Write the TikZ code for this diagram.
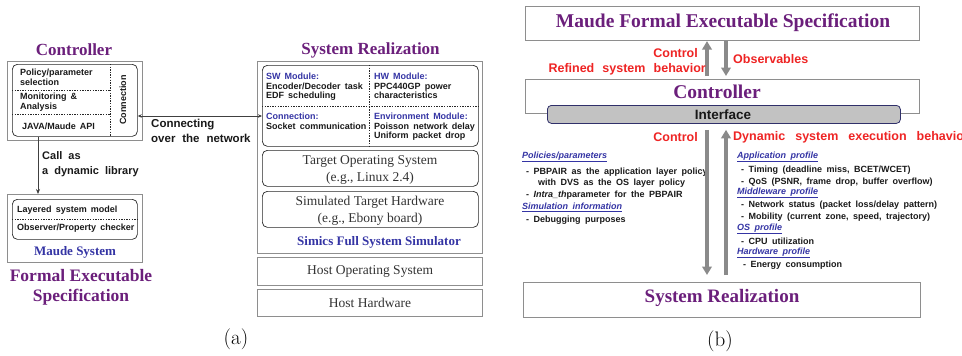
\documentclass[tikz,border=0pt]{standalone}
\usepackage{fontspec}
\setmainfont{Liberation Serif}
\setsansfont{Liberation Sans}
\newfontfamily\lmfont{Latin Modern Roman}
\usetikzlibrary{arrows.meta}
\definecolor{purp}{HTML}{6B1F7B}
\definecolor{blu}{HTML}{3434A4}
\definecolor{redt}{HTML}{EE2424}
\definecolor{grayb}{HTML}{8E8E8E}
\definecolor{arrg}{HTML}{8A8A8A}
\definecolor{ifg}{HTML}{C2C2C2}
\definecolor{ifb}{HTML}{30306A}
\definecolor{txg}{HTML}{333333}
\newcommand{\hdr}[1]{\textcolor{blu}{\itshape\underline{#1}}}
\newcommand{\wsp}[1]{\spaceskip=#1em plus 0.1em\relax}
\tikzset{
  obox/.style={draw=grayb, line width=1.1pt, anchor=north west, inner sep=0pt},
  ibox/.style={draw=black!85, rounded corners=5pt, line width=0.7pt, anchor=north west, inner sep=0pt},
  ttl/.style={font=\bfseries\fontsize{17}{20}\selectfont, text=purp, align=center, inner sep=0pt},
  bigttl/.style={font=\bfseries\fontsize{19.5}{22}\selectfont, text=purp, inner sep=0pt},
  sub/.style={font=\bfseries\fontsize{13}{15}\selectfont, text=blu, inner sep=0pt},
  sm/.style={font=\sffamily\bfseries\fontsize{9}{9.5}\selectfont\wsp{0.45}, align=left, inner sep=0pt, text=black!90},
  lst/.style={font=\sffamily\bfseries\fontsize{9}{12}\selectfont\wsp{0.5}, inner sep=0pt, anchor=west, text=black!90},
  midt/.style={font=\sffamily\bfseries\fontsize{11.5}{14.5}\selectfont\wsp{0.6}, align=left, inner sep=0pt, text=black!90},
  lab/.style={font=\sffamily\bfseries\fontsize{12.5}{14}\selectfont\wsp{0.65}, text=redt, inner sep=0pt},
  rmt/.style={font=\fontsize{13.5}{17}\selectfont, text=txg, align=center, inner sep=0pt},
  fat/.style={draw=arrg, line width=3.2pt, -{Triangle[width=9.5pt,length=8.5pt]}},
  thin/.style={draw=black!75, line width=0.7pt},
  dott/.style={draw=black!85, line width=0.7pt, dash pattern=on 1.3pt off 1.3pt},
  figcap/.style={font=\lmfont\fontsize{21}{24}\selectfont, inner sep=0pt},
}
\begin{document}
\begin{tikzpicture}[x=1pt, y=-1pt]
\useasboundingbox (0,0) rectangle (962,356);
% ================= panel (a) =================
\node[ttl] (ctrltitle) at (74,49.5) {Controller};
\node[obox, minimum width=135, minimum height=79] (ctrlout) at (7,61) {};
\node[ibox, minimum width=125, minimum height=72] (ctrlin) at (12,64) {};
\draw[dott] (110,64) -- (110,136);
\draw[dott] (12,90) -- (110,90);
\draw[dott] (12,114) -- (110,114);
\node[sm, anchor=north west] (pol) at (20,69) {Policy/parameter\\selection};
\node[sm, anchor=north west] (mon) at (20,93) {Monitoring \& \\Analysis};
\node[sm, anchor=west] (api) at (22,126) {JAVA/Maude API};
\node[sm, rotate=90] (conn) at (123,100) {Connection};

\node[obox, minimum width=135, minimum height=68] (maudeout) at (7,194) {};
\node[ibox, minimum width=125, minimum height=40] (maudein) at (12,199) {};
\draw[dott] (12,219) -- (137,219);
\node[sm, anchor=west] (lay) at (17,210) {Layered system model};
\node[sm, anchor=west] (obs) at (17,228) {Observer/Property checker};
\node[sub] (mauds) at (75,252) {Maude System};
\node[ttl, font=\bfseries\fontsize{17.5}{20}\selectfont] (fes) at (81,287.5) {Formal Executable\\Specification};

\coordinate (callx) at (38,0);
\draw[thin, -{Stealth[length=5pt,width=4pt]}] (ctrlin.south -| callx) -- (maudeout.north -| callx);
\node[midt, anchor=west, font=\sffamily\bfseries\fontsize{11}{15}\selectfont\wsp{0.55}] (call) at (42,164.5) {Call as\\a dynamic library};

% System realization (a)
\node[ttl] (srtitle) at (370.5,50) {System Realization};
\node[obox, minimum width=225, minimum height=192] (srout) at (257,61) {};
\node[ibox, minimum width=216, minimum height=81] (srin) at (262,65) {};
\draw[dott] (369,65) -- (369,146);
\draw[dott] (262,106) -- (478,106);
\node[sm, anchor=north west] (sw) at (266,73) {\textcolor{blu}{SW Module:}\\Encoder/Decoder task\\EDF scheduling};
\node[sm, anchor=north west] (hw) at (374,73) {\textcolor{blu}{HW Module:}\\PPC440GP power\\characteristics};
\node[sm, anchor=north west] (cn) at (266,113) {\textcolor{blu}{Connection:}\\Socket communication};
\node[sm, anchor=north west] (env) at (374,113) {\textcolor{blu}{Environment Module:}\\Poisson network delay\\Uniform packet drop};
\node[ibox, minimum width=216, minimum height=36] (tos) at (262,150) {};
\node[rmt] (tost) at (370,170) {Target Operating System\\(e.g., Linux 2.4)};
\node[ibox, minimum width=216, minimum height=36] (sth) at (262,191) {};
\node[rmt] (stht) at (370,211) {Simulated Target Hardware\\(e.g., Ebony board)};
\node[sub] (simics) at (379,242) {Simics Full System Simulator};
\node[obox, minimum width=225, minimum height=28] (hos) at (257,257) {};
\node[rmt] (host) at (370,271.5) {Host Operating System};
\node[obox, minimum width=225, minimum height=27] (hhw) at (257,289) {};
\node[rmt] (hhwt) at (370,303) {Host Hardware};

\coordinate (cny) at (0,116);
\draw[thin, {Stealth[length=4pt,width=3.5pt]}-{Stealth[length=4pt,width=3.5pt]}] (ctrlin.east |- cny) -- (srin.west |- cny);
\node[midt, anchor=west] (cot) at (151,131) {Connecting\\over the network};

\node[figcap] (capa) at (236,339) {(a)};

% ================= panel (b) =================
\node[obox, minimum width=394, minimum height=34] (maudeb) at (525,6) {};
\node[bigttl] (maudebt) at (723,23) {Maude Formal Executable Specification};
\node[obox, minimum width=394, minimum height=34] (ctrlb) at (525,79) {};
\node[bigttl] (ctrlbt) at (717,92) {Controller};
\node[draw=ifb, fill=ifg, line width=0.8pt, rounded corners=4pt, minimum width=353, minimum height=18, anchor=north west, inner sep=0pt] (iface) at (547,105) {};
\node[font=\sffamily\bfseries\fontsize{13.5}{15}\selectfont, text=black!90, inner sep=0pt] (ifacet) at (723,114.5) {Interface};
\node[obox, minimum width=397, minimum height=35] (srb) at (523,282) {};
\node[bigttl, font=\bfseries\fontsize{19}{22}\selectfont] (srbt) at (722,298) {System Realization};

% lists
\node[lst] (p1) at (522,157) {\hdr{Policies/parameters}};
\node[lst] (p2) at (526,172) {- PBPAIR as the application layer policy};
\node[lst] (p3) at (538,183) {with DVS as the OS layer policy};
\node[lst] (p4) at (526,195) {- \textit{Intra\_th}parameter for the PBPAIR};
\node[lst] (p5) at (522,207) {\hdr{Simulation information}};
\node[lst] (p6) at (526,220) {- Debugging purposes};

\node[lst] (q1) at (737,157) {\hdr{Application profile}};
\node[lst] (q2) at (741,170) {- Timing (deadline miss, BCET/WCET)};
\node[lst] (q3) at (741,182) {- QoS (PSNR, frame drop, buffer overflow)};
\node[lst] (q4) at (737,193) {\hdr{Middleware profile}};
\node[lst] (q5) at (741,205) {- Network status (packet loss/delay pattern)};
\node[lst] (q6) at (741,217) {- Mobility (current zone, speed, trajectory)};
\node[lst] (q7) at (737,229) {\hdr{OS profile}};
\node[lst] (q8) at (741,241) {- CPU utilization};
\node[lst] (q9) at (737,253) {\hdr{Hardware profile}};
\node[lst] (q10) at (743,265) {- Energy consumption};

% arrows
\coordinate (ux) at (707,0);
\coordinate (dx) at (726,0);
\draw[fat, shorten <=3pt] (ctrlb.north -| ux) -- (maudeb.south -| ux);
\draw[fat, shorten >=3pt] (maudeb.south -| dx) -- (ctrlb.north -| dx);
\draw[fat, shorten <=6pt, shorten >=7pt] (iface.south -| ux) -- (srb.north -| ux);
\draw[fat, shorten <=7pt, shorten >=6pt] (srb.north -| dx) -- (iface.south -| dx);

\node[lab, anchor=east] (ctl1) at (698,53) {Control};
\node[lab, anchor=east] (rsb) at (706,69) {Refined system behavior};
\node[lab, anchor=west] (obsv) at (733,59) {Observables};
\node[lab, anchor=east] (ctl2) at (698,137) {Control};
\node[lab, anchor=west, font=\sffamily\bfseries\fontsize{12.5}{14}\selectfont\wsp{0.8}] (dyn) at (733,137) {Dynamic system execution behavior};

\node[figcap] (capb) at (720,341) {(b)};
\end{tikzpicture}
\end{document}
